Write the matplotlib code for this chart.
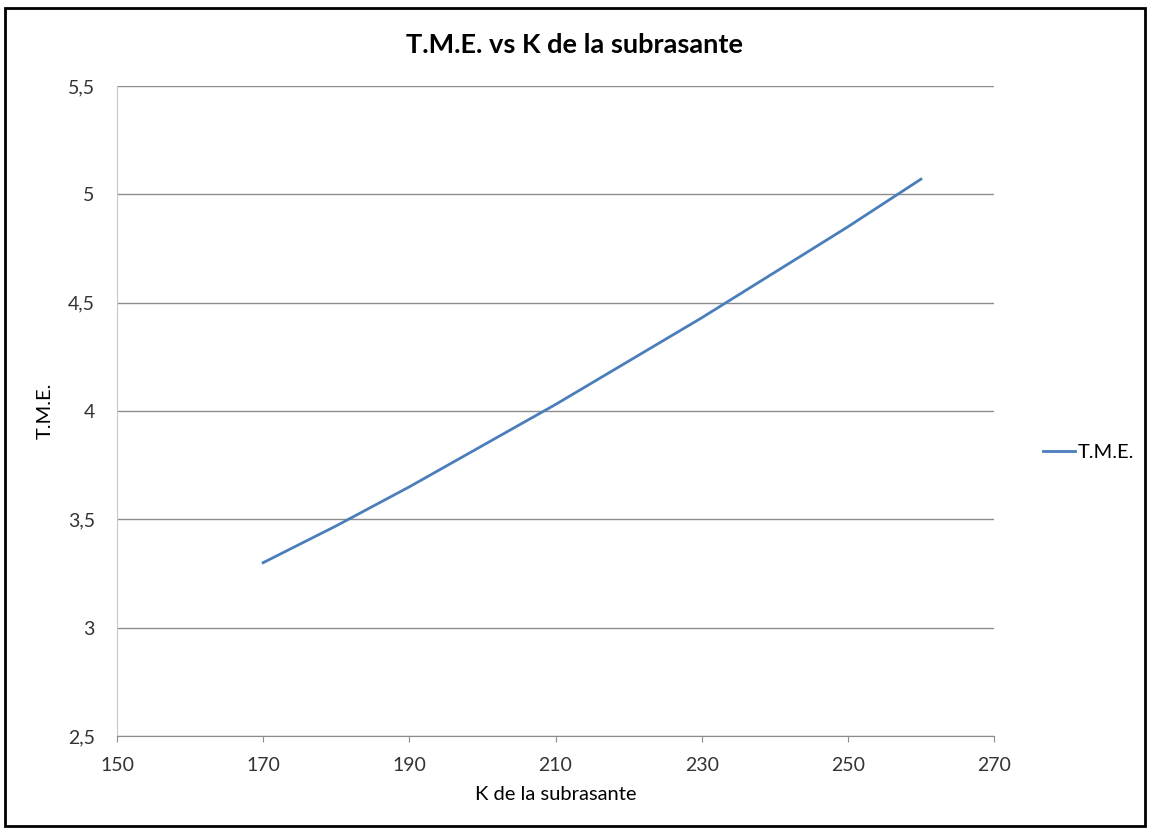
import matplotlib.pyplot as plt
from matplotlib.patches import Rectangle
from matplotlib.ticker import FuncFormatter

plt.rcParams['font.family'] = ['Lato', 'DejaVu Sans']

# datos
k_subrasante = [170, 180, 190, 200, 210, 220, 230, 240, 250, 260]
tme = [3.30, 3.47, 3.65, 3.84, 4.03, 4.23, 4.43, 4.64, 4.85, 5.07]

x_ticks = [150, 170, 190, 210, 230, 250, 270]
y_ticks = [2.5, 3, 3.5, 4, 4.5, 5, 5.5]

fig = plt.figure(figsize=(11.5, 8.33), dpi=100)
ax = fig.add_axes([117/1150, 1 - 736/833, (994 - 117)/1150, (736 - 86)/833])

ax.plot(k_subrasante, tme, color='#4A7EBB', linewidth=2, label='T.M.E.')

ax.set_xlim(150, 270)
ax.set_ylim(2.5, 5.5)
ax.set_xticks(x_ticks)
ax.set_yticks(y_ticks)
ax.yaxis.set_major_formatter(FuncFormatter(lambda v, p: ('%g' % v).replace('.', ',')))
ax.grid(axis='y', color='#8c8c8c', linewidth=1)
ax.set_axisbelow(True)

for s in ['top', 'right']:
    ax.spines[s].set_visible(False)
ax.spines['left'].set_color('#c8c8c8')
ax.spines['bottom'].set_color('#8c8c8c')
ax.tick_params(axis='y', length=0, pad=16, labelsize=14, colors='#333333')
ax.tick_params(axis='x', length=4, direction='out', color='#8c8c8c', pad=11,
               labelsize=14, labelcolor='#333333')

# titulo centrado en el area del grafico (como Excel)
fig.text(0.5, 1 - 45/833, 'T.M.E. vs K de la subrasante', fontsize=19.5,
         fontweight='bold', ha='center', va='center')
ax.set_xlabel('K de la subrasante', fontsize=14.5, labelpad=9)
ax.set_ylabel('T.M.E.', fontsize=14.5, labelpad=10)

fig.legend(loc='center left', bbox_to_anchor=(1025/1150, 1 - 452/833), frameon=False,
           fontsize=14.5, handlelength=1.6, handletextpad=0.1)

# marco exterior
fig.patches.append(Rectangle((5/1150, 7/833), 1140/1150, 818/833, transform=fig.transFigure,
                             fill=False, edgecolor='black', linewidth=2))

plt.savefig('out.png', dpi=100)
